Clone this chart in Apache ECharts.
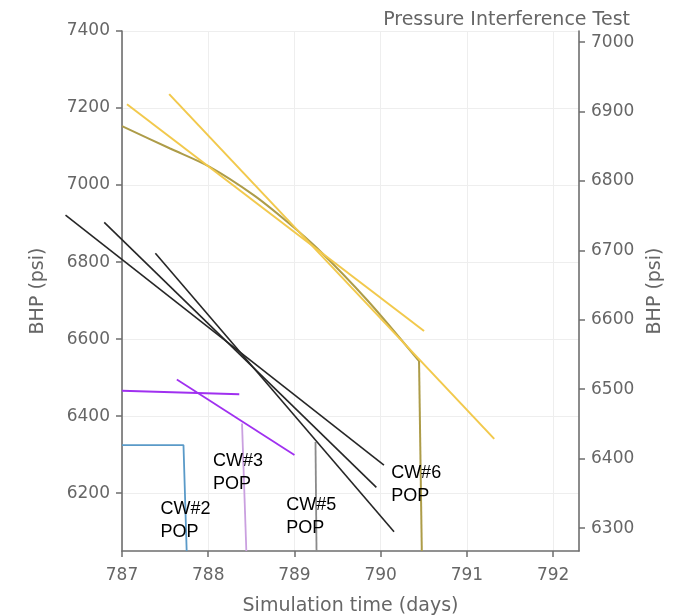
<!DOCTYPE html>
<html>
<head>
<meta charset="utf-8">
<script src="https://cdn.jsdelivr.net/npm/echarts@6/dist/echarts.min.js"></script>
<style>
  html, body { margin: 0; padding: 0; background: #fff; }
  #chart { width: 677px; height: 616px; }
</style>
</head>
<body>
<div id="chart"></div>
<script>
// ---- Data ----
const xTicks = [787, 788, 789, 790, 791, 792];
const leftTicks = [6200, 6400, 6600, 6800, 7000, 7200, 7400];
const rightTicks = [6300, 6400, 6500, 6600, 6700, 6800, 6900, 7000];

const cw2Blue = [[787.0, 6325], [787.713, 6325], [787.75, 6050]];
const cw3PurpleFlat = [[787.0, 6466], [788.36, 6457]];
const cw3PurpleSlope = [[787.636, 6495], [789.0, 6299]];
const cw3LavenderDrop = [[788.392, 6381], [788.442, 6050]];
const cw5GrayDrop = [[789.244, 6333], [789.256, 6050]];
const blackLine1 = [[786.345, 6922], [790.038, 6273]];
const blackLine2 = [[786.794, 6903], [789.95, 6215]];
const blackLine3 = [[787.387, 6823], [790.155, 6100]];
const yellowLine1 = [[787.058, 7210], [790.503, 6621]];
const yellowLine2 = [[787.547, 7236], [791.317, 6341]];
const oliveCurve = [[787.0, 7153], [787.558, 7095], [788.012, 7048], [788.527, 6974],
                    [788.915, 6905], [789.264, 6836], [789.845, 6701], [790.445, 6543]];
const oliveDrop = [[790.445, 6543], [790.477, 6050]];

const popLabels = ['CW#2\nPOP', 'CW#3\nPOP', 'CW#5\nPOP', 'CW#6\nPOP'];
const popX = [787.452, 788.062, 788.912, 790.127];
const popY = [6188, 6311, 6197, 6281];

// ---- Axis ranges ----
const xMin = 787, xMax = 792.3;
const yLeftMin = 6050, yLeftMax = 7400;
const yRightMin = 6267, yRightMax = 7016;

// ---- Layout ----
const W = 677, H = 616;
const gridL = 122, gridR = 98, gridT = 31, gridB = 65;
// a second, invisible grid with the same scale that reaches further left,
// so the long black traces can start left of the visible y axis
const outerL = 58;
const pxPerDay = (W - gridL - gridR) / (xMax - xMin);
const xMinOuter = xMin - (gridL - outerL) / pxPerDay;

const chart = echarts.init(document.getElementById('chart'), null, { renderer: 'canvas' });
const axisGray = '#6e6e6e';
const textGray = '#666666';
const fontUI = 'DejaVu Sans';

function lineSeries(name, data, color, width, opts) {
  return Object.assign({
    name: name, type: 'line', data: data, xAxisIndex: 0, yAxisIndex: 0,
    showSymbol: false, symbol: 'none', clip: false, z: 2,
    lineStyle: { color: color, width: width },
    emphasis: { disabled: true }
  }, opts || {});
}

const plainNum = v => String(Math.round(v));

const option = {
  animation: false,
  backgroundColor: '#ffffff',
  title: {
    text: 'Pressure Interference Test',
    right: 47, top: 11, padding: 0,
    textStyle: { fontFamily: fontUI, fontSize: 19, fontWeight: 'normal', color: textGray }
  },
  grid: [
    { left: gridL, right: gridR, top: gridT, bottom: gridB, outerBoundsMode: 'none', containLabel: false },
    { left: outerL, right: gridR, top: gridT, bottom: gridB, outerBoundsMode: 'none', containLabel: false }
  ],
  xAxis: [{
    type: 'value', gridIndex: 0, min: xMin, max: xMax,
    name: 'Simulation time (days)', nameLocation: 'middle', nameGap: 46,
    nameTextStyle: { fontFamily: fontUI, fontSize: 19, color: textGray },
    axisLine: { show: true, onZero: false, lineStyle: { color: axisGray, width: 1.6 } },
    axisTick: { show: true, length: 6, customValues: xTicks, lineStyle: { color: axisGray, width: 1.5 } },
    axisLabel: { customValues: xTicks, margin: 16, formatter: plainNum, fontFamily: fontUI, fontSize: 17, color: textGray },
    splitLine: { show: true, lineStyle: { color: '#eeeeee', width: 1 } }
  }, {
    type: 'value', gridIndex: 1, min: xMinOuter, max: xMax, show: false
  }],
  yAxis: [{
    type: 'value', gridIndex: 0, position: 'left', min: yLeftMin, max: yLeftMax,
    name: 'BHP (psi)', nameLocation: 'middle', nameGap: 74,
    nameTextStyle: { fontFamily: fontUI, fontSize: 19, color: textGray },
    axisLine: { show: true, onZero: false, lineStyle: { color: axisGray, width: 1.6 } },
    axisTick: { show: true, length: 6, customValues: leftTicks, lineStyle: { color: axisGray, width: 1.5 } },
    axisLabel: { customValues: leftTicks, margin: 12, padding: [5, 0, 0, 0], formatter: plainNum, fontFamily: fontUI, fontSize: 17, color: textGray },
    splitLine: { show: true, lineStyle: { color: '#eeeeee', width: 1 } }
  }, {
    type: 'value', gridIndex: 0, position: 'right', min: yRightMin, max: yRightMax,
    name: 'BHP (psi)', nameLocation: 'middle', nameGap: 51,
    nameTextStyle: { fontFamily: fontUI, fontSize: 19, color: textGray },
    axisLine: { show: true, onZero: false, lineStyle: { color: axisGray, width: 1.6 } },
    axisTick: { show: true, length: 6, customValues: rightTicks, lineStyle: { color: axisGray, width: 1.5 } },
    axisLabel: { customValues: rightTicks, margin: 12, padding: [5, 0, 0, 0], formatter: plainNum, fontFamily: fontUI, fontSize: 17, color: textGray },
    splitLine: { show: false }
  }, {
    type: 'value', gridIndex: 1, min: yLeftMin, max: yLeftMax, show: false
  }],
  series: [
    lineSeries('CW#2', cw2Blue, '#5a9ac8', 1.8),
    lineSeries('CW#3 flat', cw3PurpleFlat, '#a030f0', 1.8),
    lineSeries('CW#3', cw3PurpleSlope, '#a030f0', 1.8),
    lineSeries('CW#3 drop', cw3LavenderDrop, '#caa0e0', 1.8),
    lineSeries('CW#5 drop', cw5GrayDrop, '#8a8a8a', 1.8),
    lineSeries('Black 1', blackLine1, '#262626', 1.6, { xAxisIndex: 1, yAxisIndex: 2 }),
    lineSeries('Black 2', blackLine2, '#262626', 1.6, { xAxisIndex: 1, yAxisIndex: 2 }),
    lineSeries('Black 3', blackLine3, '#262626', 1.6, { xAxisIndex: 1, yAxisIndex: 2 }),
    lineSeries('Olive', oliveCurve, '#ad9c48', 2, { smooth: 0.3 }),
    lineSeries('Olive drop', oliveDrop, '#ad9c48', 2),
    lineSeries('Yellow 1', yellowLine1, '#f2c94c', 2, { z: 3 }),
    lineSeries('Yellow 2', yellowLine2, '#f2c94c', 2, { z: 3 }),
    {
      name: 'POP', type: 'scatter', xAxisIndex: 0, yAxisIndex: 0,
      data: popX.map((x, i) => [x, popY[i], popLabels[i]]),
      symbolSize: 1, itemStyle: { color: 'rgba(0,0,0,0)', opacity: 1 }, z: 5,
      emphasis: { disabled: true },
      label: {
        show: true, position: [0, 0], align: 'left', verticalAlign: 'top',
        formatter: p => p.value[2],
        fontFamily: 'Liberation Sans', fontSize: 18, lineHeight: 23, color: '#000000'
      }
    }
  ]
};
chart.setOption(option);
</script>
</body>
</html>
